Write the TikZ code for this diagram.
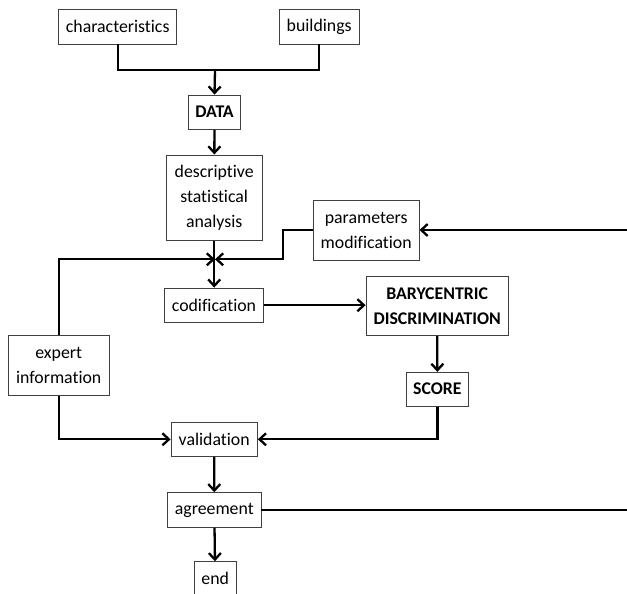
\documentclass[tikz,border=0pt]{standalone}
\usepackage{fontspec}
\setmainfont{Carlito}[Ligatures=NoCommon]
\usepackage{tikz}
\usetikzlibrary{
  positioning,
  arrows.meta,
  calc
}

\begin{document}
\begin{tikzpicture}[
  x=1pt, y=-1pt,
  >={Straight Barb[length=6.5pt,width=12pt]},
  font=\fontsize{17.8}{25}\selectfont,
  box/.style={draw=black!75, line width=0.9pt, align=center, inner sep=2pt},
  flow/.style={line width=2.3pt, black}
]
  \useasboundingbox (0,0) rectangle (627,594);
  \node[box, minimum width=118pt, minimum height=34.7pt] (char) at (117.7,26.7) {characteristics};
  \node[box, minimum width=79.7pt, minimum height=34.7pt] (bld) at (319.2,26.7) {buildings};
  \node[box, minimum width=52.4pt, minimum height=34.3pt, font=\fontsize{17.8}{25}\selectfont\bfseries] (data) at (214.5,112.2) {DATA};
  \node[box, minimum width=95.7pt, minimum height=85.7pt] (desc) at (214.2,197.8) {descriptive\\statistical\\analysis};
  \node[box, minimum width=105.7pt, minimum height=60pt] (param) at (366.2,230) {parameters\\modification};
  \node[box, minimum width=98.6pt, minimum height=34.3pt] (codif) at (214,305.2) {codification};
  \node[box, minimum width=142.3pt, minimum height=59.7pt, font=\fontsize{17.8}{25}\selectfont\bfseries] (bary) at (437.2,305.8) {BARYCENTRIC\\DISCRIMINATION};
  \node[box, minimum width=62.7pt, minimum height=33.7pt, font=\fontsize{17.8}{25}\selectfont\bfseries] (score) at (437.4,389.2) {SCORE};
  \node[box, minimum width=100.7pt, minimum height=60pt] (expert) at (58.7,365.7) {expert\\information};
  \node[box, minimum width=86.3pt, minimum height=34pt] (valid) at (214.2,439.3) {validation};
  \node[box, minimum width=93.3pt, minimum height=34.6pt] (agree) at (214.3,510) {agreement};
  \node[box, minimum width=41.7pt, minimum height=34pt] (end) at (215.2,578.7) {end};

  \coordinate (merge) at (215,69.7);
  \coordinate (hub) at (215,259.3);
  \coordinate (loopin) at (627,230);
  \coordinate (loopout) at (627,510);

  \draw[flow] (char.south) |- (merge) -| (bld.south);
  \draw[flow, ->] (merge) -- (data.north);
  \draw[flow, ->] (data) -- (desc);
  \draw[flow, ->] (desc.south) -- (desc.south |- codif.north);
  \draw[flow, ->] (loopin) -- (param.east);
  \draw[flow, ->] (param.west) -- ++(-30,0) |- (hub);
  \draw[flow, ->] (expert.north) |- (hub);
  \draw[flow, ->] (codif.east) -- (codif.east -| bary.west);
  \draw[flow, ->] (bary) -- (score);
  \draw[flow, ->] (score.south) |- (valid.east);
  \draw[flow, ->] (expert.south) |- (valid.west);
  \draw[flow, ->] (valid) -- (agree);
  \draw[flow] (agree.east) -- (loopout);
  \draw[flow, ->] (agree) -- (end);
\end{tikzpicture}
\end{document}
